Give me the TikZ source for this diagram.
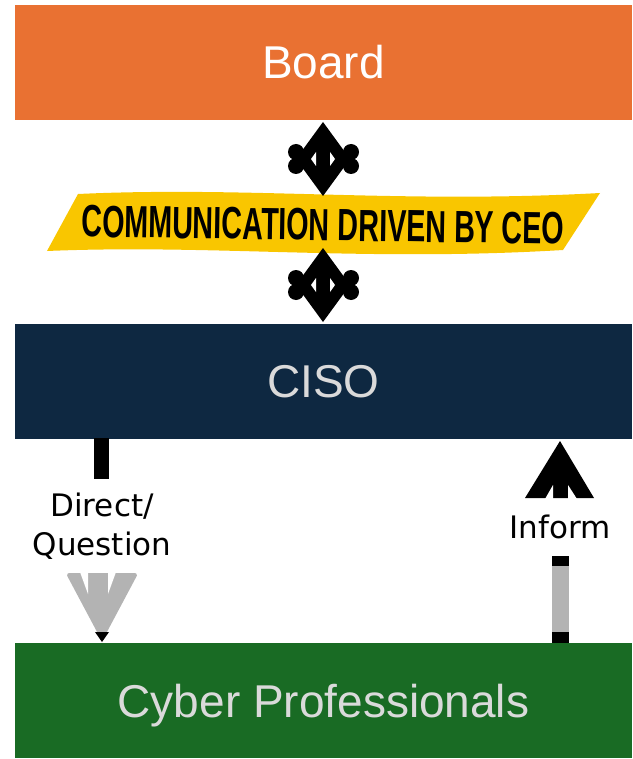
\documentclass[tikz,border=0pt]{standalone}
\usepackage{fontspec}
\setmainfont{Liberation Sans}
\newfontfamily\lblfont{DejaVu Sans}
\definecolor{boardc}{HTML}{E97132}
\definecolor{cisoc}{HTML}{0E2841}
\definecolor{cyberc}{HTML}{196B24}
\definecolor{bannerc}{HTML}{F9C600}
\definecolor{boxtext}{HTML}{DADADA}
\definecolor{arrgray}{HTML}{B3B3B3}
\begin{document}
\begin{tikzpicture}[x=1pt,y=-1pt,
  layer/.style={minimum width=617pt,minimum height=115pt,inner sep=0pt,
    font=\fontsize{46}{50}\selectfont,text height=33pt,text depth=0pt},
  lbl/.style={font=\lblfont\fontsize{31}{39}\selectfont,align=center,inner sep=0pt}]
\useasboundingbox (0,0) rectangle (632,759);
% layers
\node[layer,fill=boardc,text=white] (board) at (323.5,62.5) {Board};
\node[layer,fill=cisoc,text=boxtext] (ciso) at (323.5,381) {CISO};
\node[layer,fill=cyberc,text=boxtext] (cyber) at (323.5,700.5) {Cyber Professionals};
% banner
\fill[bannerc] (78,194) .. controls (250,186) and (400,204) .. (600,193)
  -- (563,250) .. controls (363,262) and (213,244) .. (47,251) -- cycle;
\node[inner sep=0pt,rotate=-0.9] (banner) at (323,225)
  {\scalebox{0.668}[1.05]{\fontsize{43}{46}\selectfont\bfseries COMMUNICATION DRIVEN BY CEO}};
% double arrows (drawn shapes)
\foreach \c in {159,285}{
  \fill[black] (323,\c-37) -- (350,\c) -- (323,\c+37) -- (296,\c) -- cycle;
  \fill[black] (296,\c-7) rectangle (351,\c+7);
  \foreach \xx in {296,351}{
    \fill[black] (\xx,\c-7) circle[radius=8];
    \fill[black] (\xx,\c+7) circle[radius=8];}
  \fill[white] (311,\c) -- (316,\c-7) -- (316,\c+7) -- cycle;
  \fill[white] (335,\c) -- (330,\c-7) -- (330,\c+7) -- cycle;
}
% Direct / Question arrow
\fill[black] (94,438) rectangle (109,479);
\node[lbl] (direct) at (102,526) {Direct/\\Question};
\filldraw[arrgray,line join=round,line width=4pt] (69,575) -- (135,575) -- (102,637) -- cycle;
\fill[white] (80,572) -- (88,572) -- (88,594) -- cycle;
\fill[white] (108,572) -- (116,572) -- (108,594) -- cycle;
\fill[black] (95,632) -- (109,632) -- (102,642) -- cycle;
% Inform arrow
\fill[black] (560,441) -- (594,498) -- (525,498) -- cycle;
\fill[white] (545,499) -- (553,499) -- (553,485) -- cycle;
\fill[white] (568,499) -- (577,499) -- (568,485) -- cycle;
\node[lbl] (inform) at (560,527) {Inform};
\fill[black] (552,556) rectangle (569,566);
\fill[arrgray] (552,566) rectangle (569,632);
\fill[black] (552,632) rectangle (569,643);
\end{tikzpicture}
\end{document}
